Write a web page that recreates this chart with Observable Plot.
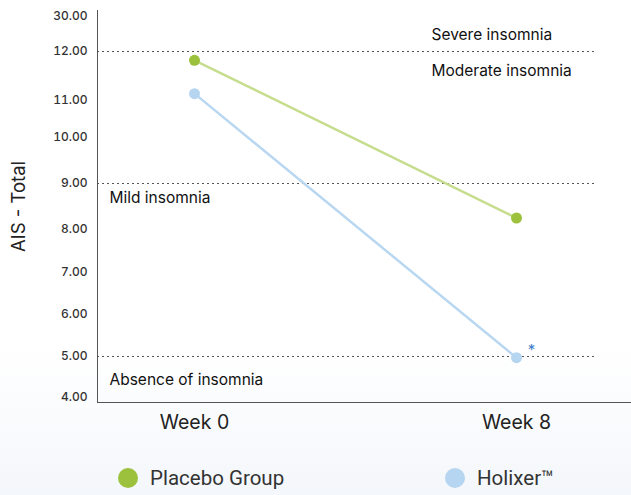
<!DOCTYPE html>
<html>
<head>
<meta charset="utf-8">
<script src="https://cdn.jsdelivr.net/npm/d3@7"></script>
<script src="https://cdn.jsdelivr.net/npm/@observablehq/plot@0.6"></script>
<style>
  body { margin: 0; background: #fff; font-family: Inter, "Noto Sans", sans-serif; }
  #wrap { width: 631px; height: 495px; background: linear-gradient(#ffffff 70%, #f4f7fb); }
  .legend { position: relative; height: 45px; font-family: Roboto, Inter, sans-serif; font-size: 20.5px; color: #333; }
  .item { position: absolute; top: 16px; display: flex; align-items: center; }
  .sw { width: 20px; height: 20px; border-radius: 50%; margin-right: 12px; }
</style>
</head>
<body>
<div id="wrap"></div>
<script>
const weeks = ["Week 0", "Week 8"];
const placebo = [11.82, 8.25];
const holixer = [11.14, 4.97];
const yTicks = [4, 5, 6, 7, 8, 9, 10, 11, 12, 30];
const yPix = [397, 356, 314, 272, 229, 183, 137, 100, 51, 16];
const thresholds = [12, 9, 5];
const zoneLabels = ["Severe insomnia", "Moderate insomnia", "Mild insomnia", "Absence of insomnia"];
const zoneValues = [12, 12, 9, 5];
const seriesNames = ["Placebo Group", "Holixer™"];
const dotColors = ["#9bc13d", "#b6d5f0"];
const lineColors = ["#c6dd8d", "#b9d7f1"];

const rows = [];
weeks.forEach((w, i) => {
  rows.push({week: w, value: placebo[i], series: seriesNames[0]});
  rows.push({week: w, value: holixer[i], series: seriesNames[1]});
});
const zones = zoneLabels.map((t, i) => ({label: t, value: zoneValues[i], i}));
const zoneText = (i, opts) => Plot.text([zones[i]], {y: "value", text: "label", textAnchor: "start",
  fontSize: 15.5, fill: "#111", ...opts});

const chart = Plot.plot({
  width: 631,
  height: 450,
  marginLeft: 97,
  marginRight: 0,
  marginTop: 10,
  marginBottom: 48,
  style: {fontFamily: "Inter, sans-serif", background: "transparent"},
  x: {type: "point", domain: weeks, range: [194, 516], padding: 0, label: null},
  y: {type: "linear", domain: yTicks, range: yPix, label: null},
  color: {domain: seriesNames, range: lineColors},
  marks: [
    Plot.axisY({ticks: yTicks, tickFormat: d => d.toFixed(2), tickSize: 0, tickPadding: 10,
      fontSize: 12, fontWeight: 500, fill: "#333", label: null}),
    Plot.axisX({tickSize: 0, tickPadding: 13, fontSize: 19.5, fill: "#222", label: null}),
    Plot.frame({anchor: "left", stroke: "#555"}),
    Plot.frame({anchor: "bottom", stroke: "#555"}),
    Plot.text(["AIS - Total"], {frameAnchor: "left", textAnchor: "middle", rotate: -90, dx: -78,
      fontSize: 18.5, fill: "#222"}),
    Plot.ruleY(thresholds, {stroke: "#555", strokeDasharray: "2,3", insetRight: 35}),
    zoneText(0, {x: () => "Week 8", dx: -85, dy: -16}),
    zoneText(1, {x: () => "Week 8", dx: -85, dy: 20}),
    zoneText(2, {frameAnchor: "left", dx: 12, dy: 15}),
    zoneText(3, {frameAnchor: "left", dx: 12, dy: 24}),
    Plot.line(rows, {x: "week", y: "value", z: "series", stroke: "series", strokeWidth: 2.5}),
    Plot.dot(rows, {x: "week", y: "value", r: 5.5,
      fill: d => dotColors[seriesNames.indexOf(d.series)], stroke: null}),
    Plot.text(rows.filter(d => d.series === seriesNames[1] && d.week === "Week 8"), {
      x: "week", y: "value", text: () => "*", dx: 15, dy: -8, fontSize: 15, fill: "#3d7cc9"})
  ]
});
const wrap = document.getElementById("wrap");
wrap.appendChild(chart);

const legend = document.createElement("div");
legend.className = "legend";
const lefts = [118, 445];
seriesNames.forEach((name, i) => {
  const it = document.createElement("div");
  it.className = "item";
  it.style.left = lefts[i] + "px";
  it.innerHTML = `<span class="sw" style="background:${dotColors[i]}"></span><span>${name}</span>`;
  legend.appendChild(it);
});
wrap.appendChild(legend);
</script>
</body>
</html>
